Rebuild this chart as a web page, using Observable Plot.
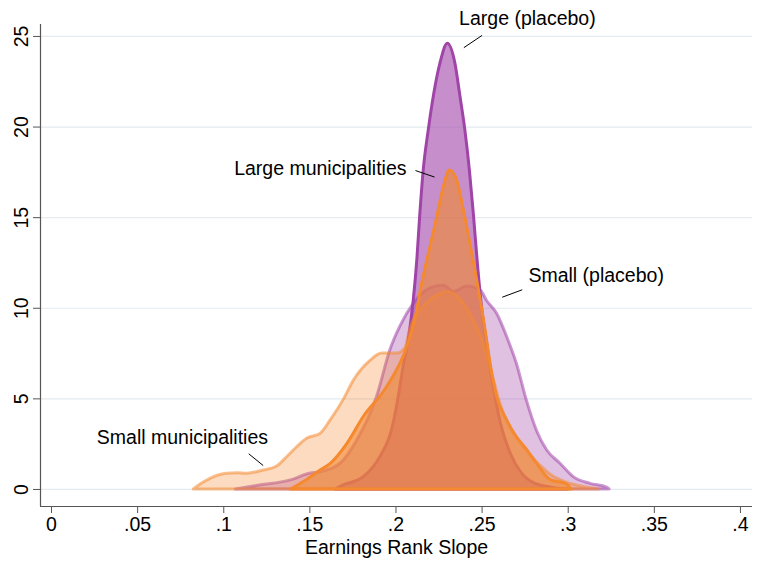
<!DOCTYPE html>
<html><head><meta charset="utf-8">
<script src="https://cdn.jsdelivr.net/npm/d3@7"></script>
<script src="https://cdn.jsdelivr.net/npm/@observablehq/plot@0.6"></script>
<style>body{margin:0;background:#fff}</style>
</head><body><div id="chart"></div>
<script>
// ---- data ----
const smallMuniX = [0.0826,0.087,0.0923,0.098,0.102,0.108,0.1136,0.1233,0.131,0.1368,0.1426,0.1484,0.1562,0.162,0.170,0.1755,0.1852,0.192,0.2007,0.2055,0.2084,0.216,0.224,0.2306,0.2394,0.2452,0.251,0.2558,0.2607,0.2665,0.2723,0.278,0.284,0.290,0.300,0.310,0.318];
const smallMuniY = [0,0.3,0.59,0.8,0.87,0.9,0.87,1.05,1.27,1.78,2.33,2.8,3.07,3.8,5.0,6.0,7.1,7.5,7.5,7.8,8.9,10.06,10.7,10.9,10.25,9.3,8.0,6.4,4.7,3.4,2.6,1.9,1.3,0.8,0.35,0.12,0];

const smallPlaceboX = [0.107,0.12,0.139,0.150,0.1562,0.1678,0.1775,0.189,0.1968,0.2026,0.210,0.220,0.2278,0.2336,0.2413,0.249,0.2529,0.2587,0.2646,0.2703,0.276,0.282,0.2878,0.2955,0.3032,0.3129,0.3226,0.324];
const smallPlaceboY = [0,0.2,0.5,0.87,0.95,1.42,2.7,5.1,7.7,9.0,10.2,11.1,11.25,10.9,11.2,11.0,10.4,9.7,8.4,6.9,4.9,3.2,2.15,1.42,0.68,0.31,0.1,0];

const largePlaceboX = [0.165,0.1697,0.1813,0.191,0.1978,0.2016,0.2045,0.2075,0.2103,0.2125,0.2140,0.2161,0.2190,0.2220,0.2258,0.2301,0.2345,0.2374,0.2403,0.2429,0.2452,0.2475,0.2500,0.2530,0.2565,0.2610,0.2665,0.2730,0.2800,0.2900,0.3000];
const largePlaceboY = [0,0.22,0.68,1.8,3.3,5.1,6.8,8.3,10.4,12.8,15.0,17.6,19.8,21.7,23.5,24.6,23.5,21.7,19.8,17.6,15.2,12.5,10.0,8.0,5.8,3.6,2.0,0.9,0.35,0.1,0];

const largeMuniX = [0.139,0.148,0.1562,0.162,0.1717,0.1813,0.1949,0.2065,0.2115,0.2152,0.2196,0.2239,0.2278,0.2313,0.2355,0.2394,0.2432,0.2475,0.2520,0.2549,0.2587,0.2646,0.2700,0.2760,0.2820,0.2900,0.2990,0.3020];
const largeMuniY = [0,0.5,1.05,1.4,2.5,4.0,5.65,7.85,9.5,11.35,13.2,15.0,16.7,17.6,17.05,15.4,13.56,11.35,8.8,6.95,5.1,3.8,2.9,2.2,1.4,0.5,0.3,0];

const xTicks = [0,0.05,0.1,0.15,0.2,0.25,0.3,0.35,0.4];
const xTickLabels = ["0",".05",".1",".15",".2",".25",".3",".35",".4"];
const yTicks = [0,5,10,15,20,25];
const xTitle = "Earnings Rank Slope";

// annotations (data coordinates)
const annLabel  = ["Large (placebo)","Large municipalities","Small (placebo)","Small municipalities"];
const annX      = [0.2763,0.2061,0.2769,0.0760];
const annY      = [26.0,17.72,11.81,2.87];
const annAnchor = ["middle","end","start","middle"];
const leadX1 = [0.2394,0.2113,0.2617,0.1145];
const leadY1 = [24.38,17.6,10.61,1.97];
const leadX2 = [0.2500,0.2224,0.2733,0.1229];
const leadY2 = [25.06,17.24,11.02,1.32];

// ---- build tables ----
const toRows = (xs, ys) => xs.map((x, i) => ({x, y: ys[i]}));
const series = [
  {rows: toRows(smallPlaceboX, smallPlaceboY), fill:"#a044a8", fo:0.33, stroke:"#a044a8", so:0.55},
  {rows: toRows(largePlaceboX, largePlaceboY), fill:"#a044a8", fo:0.6, stroke:"#a044a8", so:1},
  {rows: toRows(smallMuniX, smallMuniY), fill:"#f4892f", fo:0.3, stroke:"#f4892f", so:0.55},
  {rows: toRows(largeMuniX, largeMuniY), fill:"#f4892f", fo:0.6, stroke:"#f4892f", so:1}
];
const ann = annLabel.map((t, i) => ({t, x: annX[i], y: annY[i], a: annAnchor[i]}));
const leads = leadX1.map((x1, i) => ({x1, y1: leadY1[i], x2: leadX2[i], y2: leadY2[i]}));

const xDomain = [-0.0064, 0.407];
const yDomain = [-0.94, 25.66];
const FS = 19.5;

const marks = [
  Plot.gridY(yTicks, {stroke:"#e3eaf0", strokeOpacity:1, strokeWidth:1.2}),
  ...series.map(s => Plot.areaY(s.rows, {
    x:"x", y:"y", curve:"monotone-x",
    fill:s.fill, fillOpacity:s.fo, stroke:s.stroke, strokeOpacity:s.so,
    strokeWidth:3, strokeLinejoin:"round"
  })),
  Plot.ruleX([xDomain[0]], {stroke:"#555", strokeWidth:1.2}),
  Plot.ruleY([yDomain[0]], {stroke:"#555", strokeWidth:1.2}),
  Plot.axisX({ticks:xTicks, tickFormat:(d) => xTickLabels[xTicks.indexOf(d)], tickSize:7, tickPadding:4, fontSize:FS, stroke:"#555", label:null}),
  Plot.axisY({ticks:yTicks, tickSize:7, tickPadding:6, tickRotate:-90, fontSize:FS, stroke:"#555", label:null}),
  Plot.text([xTitle], {frameAnchor:"bottom", lineAnchor:"middle", dy:41, fontSize:FS, fill:"#000"}),
  Plot.link(leads, {x1:"x1", y1:"y1", x2:"x2", y2:"y2", stroke:"#000", strokeWidth:1}),
  ...ann.map(d => Plot.text([d], {x:"x", y:"y", text:"t", textAnchor:d.a, fontSize:FS, fill:"#000"}))
];

const chart = Plot.plot({
  width: 770, height: 586,
  marginLeft: 40, marginRight: 18, marginTop: 24, marginBottom: 80,
  x: {domain: xDomain, axis: null},
  y: {domain: yDomain, axis: null},
  style: {fontFamily: "'Liberation Sans', Arial, Helvetica, sans-serif", fontSize: FS + "px", color: "#000", background: "#fff"},
  marks
});
document.getElementById("chart").appendChild(chart);
</script>
</body></html>
